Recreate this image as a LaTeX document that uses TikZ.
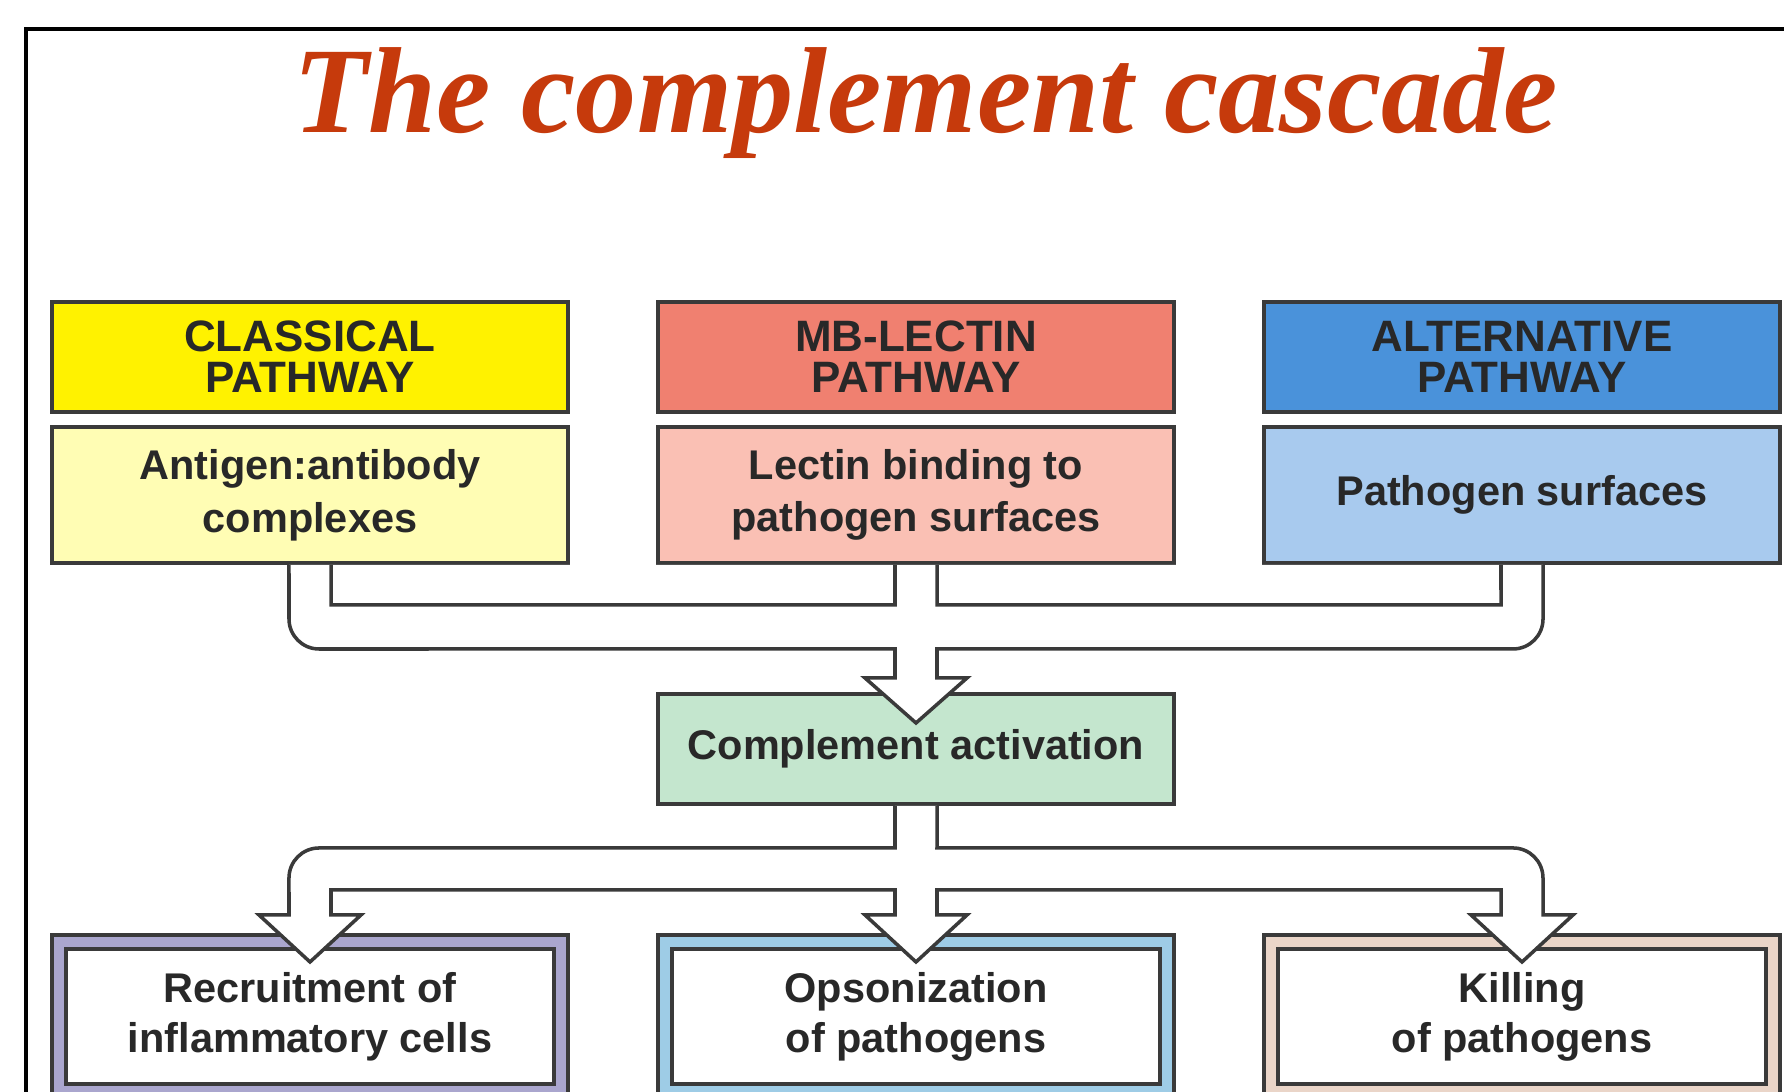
\documentclass[tikz,border=0pt]{standalone}
\usepackage{fontspec}
\usepackage{tikz}
\usepackage{xcolor}
\usetikzlibrary{shapes.geometric, arrows.meta}
\newfontfamily\boxfont{Liberation Sans}
\newfontfamily\titlefont{Liberation Serif}
\definecolor{casctitle}{RGB}{198, 58, 12}
\definecolor{cascline}{RGB}{58, 58, 58}
\definecolor{casctext}{RGB}{40, 40, 40}
\definecolor{classyellow}{RGB}{255, 242, 0}
\definecolor{classpale}{RGB}{255, 253, 180}
\definecolor{lectred}{RGB}{240, 128, 112}
\definecolor{lectpale}{RGB}{250, 192, 180}
\definecolor{altblue}{RGB}{74, 146, 218}
\definecolor{altpale}{RGB}{168, 202, 238}
\definecolor{actgreen}{RGB}{196, 230, 206}
\definecolor{recruitband}{RGB}{170, 166, 206}
\definecolor{opsonband}{RGB}{158, 204, 230}
\definecolor{killband}{RGB}{234, 213, 200}
\tikzstyle{headnode} = [rectangle, minimum width=5.16cm, minimum height=1.1cm, align=center, draw=cascline, line width=1.1pt, inner sep=0pt, text=casctext, font=\boxfont\bfseries\fontsize{12.5}{11.6}\selectfont]
\tikzstyle{sourcenode} = [rectangle, minimum width=5.16cm, minimum height=1.36cm, align=center, draw=cascline, line width=1.1pt, inner sep=0pt, text=casctext, font=\boxfont\bfseries\fontsize{11.8}{15}\selectfont]
\tikzstyle{actnode} = [sourcenode, minimum height=1.1cm]
\tikzstyle{effectnode} = [rectangle, minimum width=5.02cm, minimum height=1.49cm, align=center, draw=cascline, line width=1.1pt, double distance=0.1cm, fill=white, inner sep=0pt, text=casctext, font=\boxfont\bfseries\fontsize{11.8}{14.2}\selectfont]
\tikzstyle{blockarrow} = [draw=cascline, line width=1pt, line join=miter, fill=white]
\tikzstyle{channel} = [draw=cascline, line width=1pt]

\begin{document}
\begin{tikzpicture}[x=0.01cm, y=0.01cm]
    \useasboundingbox (0,0) rectangle (1784,1092);
    \fill[white] (0,0) rectangle (1784,1092);
    \clip (0,0) rectangle (1784,1092);
    % frame and title
    \draw[line width=1.3pt] (26,-20) -- (26,1063) -- (1810,1063);
    \node[font=\titlefont\bfseries\itshape\fontsize{34.8}{40}\selectfont, text=casctitle, anchor=base] (title) at (926,959) {The complement cascade};

    % the three pathways
    \node[headnode, fill=classyellow] (classhead) at (310,735) {CLASSICAL\\PATHWAY};
    \node[sourcenode, fill=classpale] (classbody) at (310,597) {Antigen:antibody\\complexes};
    \node[headnode, fill=lectred] (lecthead) at (916,735) {MB-LECTIN\\PATHWAY};
    \node[sourcenode, fill=lectpale] (lectbody) at (916,597) {Lectin binding to\\pathogen surfaces};
    \node[headnode, fill=altblue] (althead) at (1522,735) {ALTERNATIVE\\PATHWAY};
    \node[sourcenode, fill=altpale] (altbody) at (1522,597) {Pathogen surfaces};

    \node[actnode, fill=actgreen] (activation) at (916,343) {Complement activation};

    % effects
    \node[effectnode, double=recruitband] (recruit) at (310,75.5) {Recruitment of\\inflammatory cells};
    \node[effectnode, double=opsonband] (opson) at (916,75.5) {Opsonization\\of pathogens};
    \node[effectnode, double=killband] (killing) at (1522,75.5) {Killing\\of pathogens};

    % merging arrow
    \draw[blockarrow] ([xshift=-0.21cm]classbody.south) -- (289,473) arc[start angle=180, end angle=270, radius=0.3cm] -- (895,443) -- (895,414) -- (865,414) -- (916,369) -- (967,414) -- (937,414) -- (937,443) -- (1513,443) arc[start angle=270, end angle=360, radius=0.3cm] -- ([xshift=0.21cm]altbody.south);
    \draw[channel] ([xshift=0.21cm]classbody.south) |- (895,487) -- ([xshift=-0.21cm]lectbody.south);
    \draw[channel] ([xshift=0.21cm]lectbody.south) |- (1501,487) -- ([xshift=-0.21cm]altbody.south);

    % splitting arrow
    \draw[blockarrow] ([xshift=-0.21cm]activation.south) -- (895,244) -- (319,244) arc[start angle=90, end angle=180, radius=0.3cm] -- (289,177) -- (259,177) -- (310,130) -- (361,177) -- (331,177) -- (331,202) -- (895,202) -- (895,177) -- (865,177) -- (916,130) -- (967,177) -- (937,177) -- (937,202) -- (1501,202) -- (1501,177) -- (1471,177) -- (1522,130) -- (1573,177) -- (1543,177) -- (1543,214) arc[start angle=0, end angle=90, radius=0.3cm] -- (937,244) -- ([xshift=0.21cm]activation.south);
\end{tikzpicture}
\end{document}
